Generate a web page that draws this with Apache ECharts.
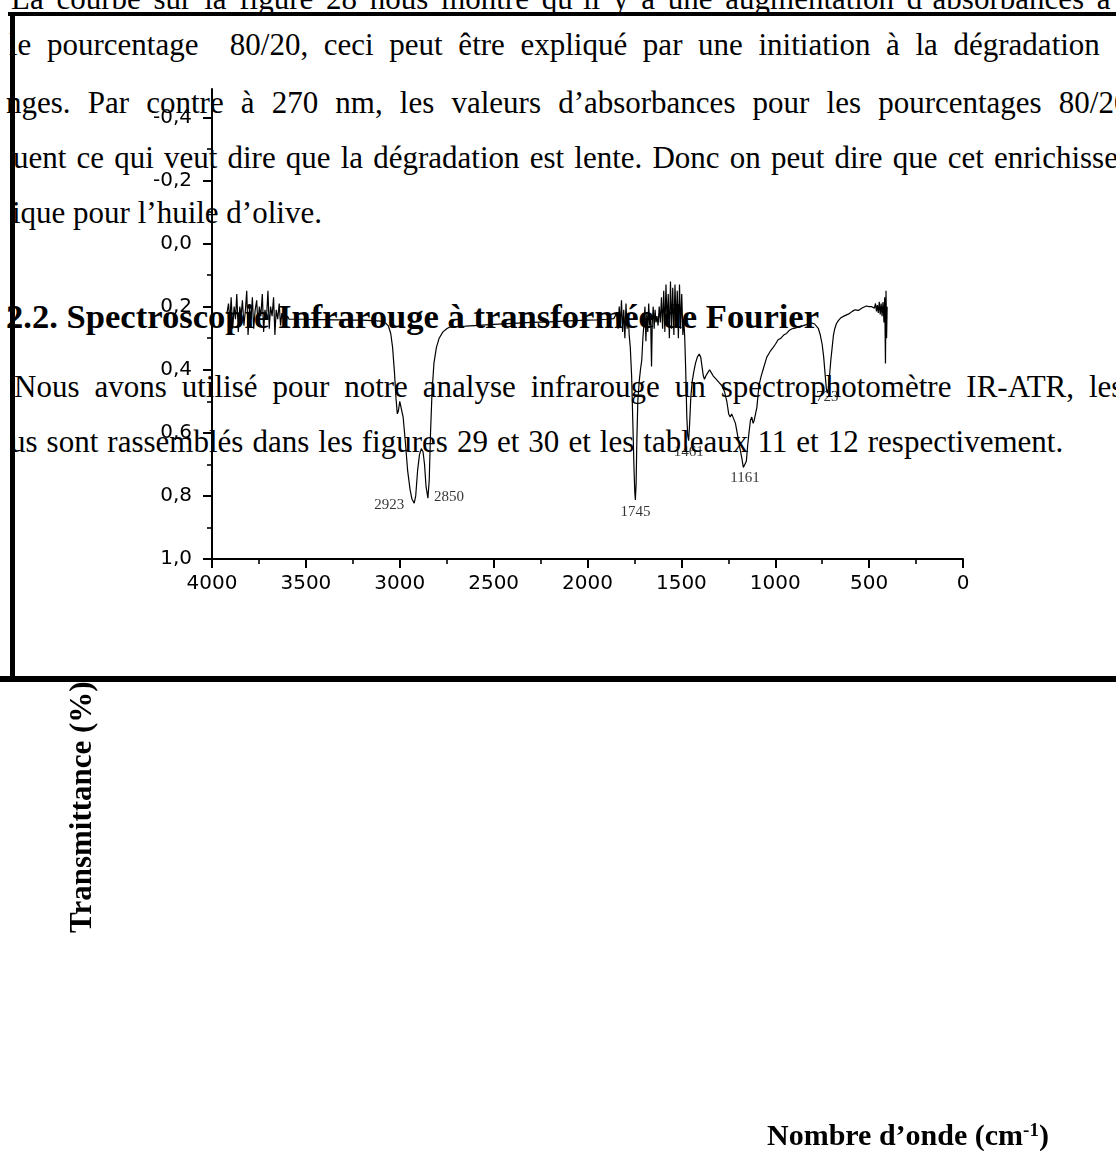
<!DOCTYPE html>
<html lang="fr">
<head>
<meta charset="utf-8">
<title>Spectre IR-ATR – huile d’olive</title>
<script src="https://cdn.jsdelivr.net/npm/echarts@6/dist/echarts.min.js"></script>
<style>
  html, body { margin: 0; padding: 0; background: #fff; }
  #page { position: relative; width: 1116px; height: 1151px; overflow: hidden; background: #fff; }
  .ln { position: absolute; white-space: pre; color: #000; font-family: "Liberation Serif", "Times New Roman", serif;
        font-size: 31px; line-height: 31px; }
  .ln.h { font-weight: bold; font-size: 34.6px; line-height: 34.6px; }
  #chart { position: absolute; left: 0; top: 0; width: 1116px; height: 1151px; }
</style>
</head>
<body>
<div id="page">
  <div id="text"></div>
  <div id="chart"></div>
</div>
<script>
// ---- Spectrum (wavenumber in cm-1, transmittance axis value) ----
const wavenumbers = [
  3920, 3912, 3905, 3898, 3890, 3882, 3875, 3868, 3860, 3852, 3845, 3838, 3830, 3822, 3815, 3808,
  3800, 3792, 3785, 3778, 3770, 3762, 3755, 3748, 3740, 3732, 3725, 3718, 3710, 3702, 3695, 3688,
  3680, 3672, 3665, 3658, 3650, 3642, 3635, 3628, 3620, 3612, 3605, 3598, 3590,
  3560, 3500, 3450, 3400, 3350, 3300, 3250, 3200, 3150, 3100, 3075, 3060, 3048, 3038, 3028, 3020,
  3013, 3007, 3000, 2992, 2982, 2970, 2958, 2945, 2935, 2923, 2915, 2905, 2895, 2885, 2876, 2868,
  2860, 2850, 2843, 2836, 2828, 2818, 2805, 2790, 2770, 2750, 2736, 2650, 2600, 2500, 2400, 2300,
  2200, 2100, 2000, 1950, 1900, 1860,
  1850, 1843, 1837, 1831, 1825, 1819, 1813, 1807, 1801, 1795, 1789, 1783, 1778, 1772, 1765, 1758,
  1752, 1748, 1745, 1741, 1737, 1732, 1725, 1718, 1711, 1705, 1699, 1694, 1689, 1684, 1679, 1674,
  1669, 1664, 1659, 1655, 1650, 1645, 1640, 1635, 1630, 1624, 1618, 1612, 1606, 1600, 1594, 1588,
  1582, 1576, 1570, 1564, 1558, 1552, 1546, 1540, 1534, 1528, 1522, 1516, 1510, 1504, 1498, 1492,
  1487, 1482, 1477, 1471, 1466, 1461, 1456, 1450, 1443, 1435, 1425, 1415, 1405, 1397, 1390, 1383,
  1377, 1370, 1360, 1350, 1340, 1330, 1315, 1300, 1285, 1270, 1258, 1248, 1240, 1232, 1222, 1212,
  1200, 1188, 1178, 1170, 1161, 1154, 1147, 1140, 1132, 1125, 1118, 1112, 1105, 1098, 1090, 1083,
  1075, 1065, 1055, 1045, 1035, 1025, 1012, 1000, 985, 970, 955, 940, 925, 910, 895, 880,
  865, 850, 835, 820, 805, 790, 780, 770, 760, 750, 742, 735, 728, 723, 718, 711,
  704, 697, 690, 683, 675, 665, 650, 635, 620, 605, 590, 575, 565, 557, 549, 540,
  530, 515, 500, 485, 472, 466, 461, 456, 451, 446, 441, 436, 431, 426, 421, 417,
  413, 410, 407, 404
];
const transmittance = [
  0.22, 0.19, 0.25, 0.17, 0.27, 0.20, 0.24, 0.16, 0.28, 0.20, 0.23, 0.18, 0.26, 0.21, 0.15, 0.29,
  0.20, 0.24, 0.17, 0.27, 0.21, 0.18, 0.26, 0.20, 0.23, 0.16, 0.28, 0.21, 0.24, 0.15, 0.27, 0.20,
  0.23, 0.17, 0.29, 0.21, 0.24, 0.19, 0.26, 0.22, 0.24, 0.20, 0.25, 0.23, 0.24,
  0.240, 0.240, 0.241, 0.241, 0.242, 0.242, 0.243, 0.243, 0.244, 0.246, 0.252, 0.262, 0.285, 0.33, 0.41, 0.49,
  0.54, 0.53, 0.50, 0.50, 0.55, 0.63, 0.72, 0.78, 0.81, 0.823, 0.80, 0.72, 0.67, 0.65, 0.66, 0.70,
  0.77, 0.807, 0.75, 0.60, 0.47, 0.38, 0.33, 0.30, 0.28, 0.27, 0.265, 0.262, 0.26, 0.256, 0.253, 0.25,
  0.248, 0.245, 0.243, 0.242, 0.24, 0.238,
  0.24, 0.22, 0.27, 0.20, 0.26, 0.18, 0.28, 0.21, 0.30, 0.19, 0.27, 0.22, 0.29, 0.33, 0.42, 0.58,
  0.72, 0.79, 0.813, 0.76, 0.62, 0.50, 0.44, 0.40, 0.37, 0.30, 0.25, 0.20, 0.31, 0.22, 0.28, 0.19,
  0.26, 0.23, 0.39, 0.25, 0.20, 0.27, 0.21, 0.25, 0.23, 0.26, 0.20, 0.25, 0.17, 0.27, 0.15, 0.28,
  0.13, 0.26, 0.16, 0.30, 0.12, 0.27, 0.14, 0.29, 0.13, 0.26, 0.15, 0.30, 0.13, 0.27, 0.16, 0.29,
  0.24, 0.30, 0.40, 0.55, 0.61, 0.625, 0.57, 0.49, 0.44, 0.41, 0.38, 0.36, 0.35, 0.36, 0.39, 0.42,
  0.43, 0.42, 0.41, 0.40, 0.41, 0.42, 0.43, 0.44, 0.45, 0.47, 0.50, 0.54, 0.55, 0.54, 0.54, 0.57,
  0.61, 0.65, 0.68, 0.71, 0.715, 0.69, 0.64, 0.60, 0.56, 0.55, 0.57, 0.56, 0.54, 0.52, 0.47, 0.44,
  0.42, 0.40, 0.38, 0.36, 0.35, 0.34, 0.33, 0.32, 0.305, 0.30, 0.29, 0.285, 0.275, 0.27, 0.268, 0.265,
  0.262, 0.26, 0.257, 0.255, 0.252, 0.255, 0.26, 0.27, 0.29, 0.32, 0.36, 0.41, 0.46, 0.474, 0.46, 0.42,
  0.37, 0.33, 0.29, 0.27, 0.255, 0.245, 0.235, 0.23, 0.226, 0.222, 0.215, 0.21, 0.205, 0.212, 0.218, 0.205,
  0.20, 0.198, 0.20, 0.20, 0.205, 0.19, 0.215, 0.195, 0.22, 0.185, 0.225, 0.19, 0.23, 0.185, 0.25, 0.17,
  0.38, 0.15, 0.30, 0.20
];

// ---- Annotated absorption bands ----
const peakWavenumbers = [2923, 2850, 1745, 1461, 1161, 723];

// ---- Axis ticks ----
const xTickStep = 500;
const yMajorTicks = [-0.4, -0.2, 0.0, 0.2, 0.4, 0.6, 0.8, 1.0];
const yMinorTicks = [-0.3, -0.1, 0.1, 0.3, 0.5, 0.7, 0.9];

// ---- Surrounding page text (French report) ----
const pageLines = [
  "La courbe sur la figure 28 nous montre qu’il y a une augmentation d’absorbances à",
  "le pourcentage  80/20, ceci peut être expliqué par une initiation à la dégradation",
  "nges. Par contre à 270 nm, les valeurs d’absorbances pour les pourcentages 80/20",
  "uent ce qui veut dire que la dégradation est lente. Donc on peut dire que cet enrichissement",
  "ique pour l’huile d’olive.",
  "2.2. Spectroscopie Infrarouge à transformée de Fourier",
  "Nous avons utilisé pour notre analyse infrarouge un spectrophotomètre IR-ATR, les résultats",
  "us sont rassemblés dans les figures 29 et 30 et les tableaux 11 et 12 respectivement."
];
const yAxisTitle = "Transmittance (%)";
const xAxisTitle = "Nombre d’onde (cm";
const xAxisTitleSup = "-1";

// layout of the text lines: left edge, baseline, word spacing, heading flag
const lineLayout = [
  { left: 11, base: 9,   ws: 5 },
  { left: 9,  base: 55,  ws: 7.9 },
  { left: 6,  base: 113, ws: 9.4 },
  { left: 13, base: 168, ws: 2.4 },
  { left: 12, base: 223, ws: 0 },
  { left: 6,  base: 328, ws: 0, heading: true },
  { left: 14, base: 397, ws: 7.2 },
  { left: 10, base: 452, ws: 1.3 }
];
// label offsets (px) of the band annotations relative to the band minimum
const peakLabelOffsets = [[-25, 2], [21, -1], [0, 12], [0, 11], [0, 9], [0, 4]];

// ---- page text ----
const textBox = document.getElementById('text');
pageLines.forEach((t, i) => {
  const L = lineLayout[i];
  const d = document.createElement('div');
  d.className = 'ln' + (L.heading ? ' h' : '');
  const fs = L.heading ? 34.6 : 31;
  d.style.left = L.left + 'px';
  d.style.top = (L.base - 0.8375 * fs) + 'px';
  d.style.wordSpacing = L.ws + 'px';
  d.textContent = t;
  textBox.appendChild(d);
});

// ---- chart ----
const serif = '"Liberation Serif", "Times New Roman", serif';
const sans = '"DejaVu Sans", Arial, sans-serif';
const spectrum = wavenumbers.map((w, i) => [w, transmittance[i]]);
const peaks = peakWavenumbers.map((w, i) => ({
  value: [w, transmittance[wavenumbers.indexOf(w)]],
  name: String(w),
  label: { offset: peakLabelOffsets[i] }
}));
const fmtComma = v => (Math.abs(v) < 1e-9 ? 0 : v).toFixed(1).replace('.', ',');

const chart = echarts.init(document.getElementById('chart'), null, { renderer: 'canvas' });
chart.setOption({
  backgroundColor: 'transparent',
  animation: false,
  grid: { left: 212, right: 153, top: 89, bottom: 592, containLabel: false },
  xAxis: {
    type: 'value', min: 0, max: 4000, interval: xTickStep, inverse: true,
    axisLine: { show: true, onZero: false, lineStyle: { color: '#000', width: 2 } },
    axisTick: { show: true, inside: false, length: 9, lineStyle: { color: '#000', width: 2 } },
    minorTick: { show: true, splitNumber: 2, length: 5, lineStyle: { color: '#000', width: 1.6 } },
    axisLabel: { color: '#000', fontFamily: sans, fontSize: 20, margin: 25, verticalAlign: 'middle',
                 formatter: v => String(Math.round(v)) },
    splitLine: { show: false }, minorSplitLine: { show: false }
  },
  yAxis: [{
    type: 'value', min: -0.49, max: 1.0, inverse: true, position: 'left',
    axisLine: { show: true, onZero: false, lineStyle: { color: '#000', width: 2 } },
    axisTick: { show: true, inside: false, length: 9, customValues: yMajorTicks, lineStyle: { color: '#000', width: 2 } },
    axisLabel: { show: true, customValues: yMajorTicks, formatter: fmtComma, color: '#000', fontFamily: sans, fontSize: 20, margin: 20 },
    splitLine: { show: false }
  }, {
    type: 'value', min: -0.49, max: 1.0, inverse: true, position: 'left',
    axisLine: { show: false, onZero: false },
    axisTick: { show: true, inside: false, length: 5, customValues: yMinorTicks, lineStyle: { color: '#000', width: 1.6 } },
    axisLabel: { show: false },
    splitLine: { show: false }
  }],
  series: [{
    type: 'line', data: spectrum, yAxisIndex: 0, showSymbol: false, symbol: 'none',
    lineStyle: { color: '#000', width: 1.2 }, z: 3, silent: true
  }, {
    type: 'scatter', data: peaks, yAxisIndex: 0, symbolSize: 0, z: 4, silent: true,
    label: {
      show: true, position: 'inside', formatter: p => p.name,
      color: '#000', fontFamily: serif, fontSize: 15
    }
  }],
  graphic: [
    // figure frame
    { type: 'rect', z: 100, shape: { x: 8, y: 12, width: 1120, height: 4 }, style: { fill: '#000' } },
    { type: 'rect', z: 100, shape: { x: 10, y: 12, width: 5, height: 668 }, style: { fill: '#000' } },
    { type: 'rect', z: 100, shape: { x: 0, y: 676, width: 1120, height: 6 }, style: { fill: '#000' } },
    // axis titles
    { type: 'text', z: 50, x: 82.5, y: 933, rotation: Math.PI / 2,
      style: { text: yAxisTitle, fill: '#000', font: 'bold 31px ' + serif, align: 'left', verticalAlign: 'middle' } },
    { type: 'text', z: 50, x: 767, y: 1122,
      style: {
        text: '{a|' + xAxisTitle + '}{s|' + xAxisTitleSup + '}{a|)}',
        align: 'left', verticalAlign: 'top',
        rich: {
          a: { fontFamily: serif, fontWeight: 'bold', fontSize: 30, lineHeight: 30, fill: '#000' },
          s: { fontFamily: serif, fontWeight: 'bold', fontSize: 19, lineHeight: 12, verticalAlign: 'top', fill: '#000' }
        }
      } }
  ]
});
</script>
</body>
</html>
